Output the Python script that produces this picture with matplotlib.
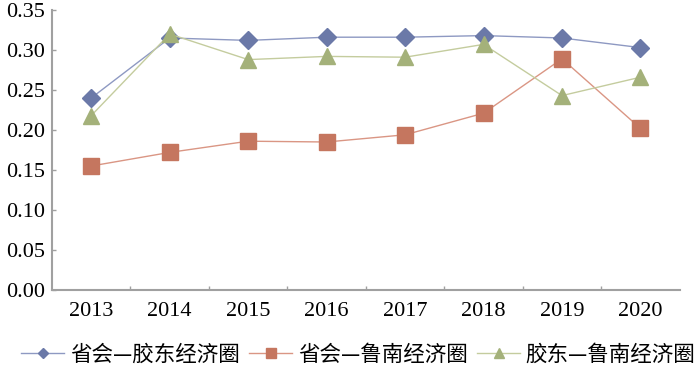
import matplotlib.pyplot as plt
import numpy as np

plt.rcParams['font.family'] = ['Liberation Serif', 'Noto Sans CJK SC']

years = ['2013', '2014', '2015', '2016', '2017', '2018', '2019', '2020']
capital_jiaodong = [0.240, 0.315, 0.312, 0.316, 0.316, 0.318, 0.315, 0.303]
capital_lunan = [0.155, 0.172, 0.186, 0.185, 0.194, 0.221, 0.289, 0.202]
jiaodong_lunan = [0.218, 0.320, 0.288, 0.292, 0.291, 0.307, 0.243, 0.266]
labels = ['省会—胶东经济圈', '省会—鲁南经济圈', '胶东—鲁南经济圈']

fig = plt.figure(figsize=(7, 3.65), dpi=100)
ax = fig.add_axes([0.0743, 0.2055, 0.8967, 0.7671])

x = np.arange(len(years))
ax.plot(x, capital_jiaodong, color='#8e99c2', lw=1, marker='D', ms=9,
        mfc='#6b79a8', mec='#6b79a8', label=labels[0])
ax.plot(x, capital_lunan, color='#da9684', lw=1, marker='s', ms=12,
        mfc='#c5765f', mec='#c5765f', label=labels[1])
ax.plot(x, jiaodong_lunan, color='#c4cc9e', lw=1, marker='^', ms=12,
        mfc='#a4b17a', mec='#a4b17a', label=labels[2])

ax.set_xlim(-0.5, len(years) - 0.5)
ax.set_ylim(0, 0.35)
yt = np.arange(0, 0.351, 0.05)
ax.set_yticks(yt)
ax.set_yticklabels([f'{v:.2f}' for v in yt])
ax.set_xticks(x)
ax.set_xticklabels(years)
ax.set_xticks(np.arange(0.5, len(years) - 1, 1), minor=True)
ax.tick_params(axis='both', which='both', labelsize=16, labelcolor='#000000',
               direction='in', color='#a0a0a0', width=1)
ax.tick_params(axis='y', length=3, pad=5)
ax.tick_params(axis='x', which='major', length=0, pad=9)
ax.tick_params(axis='x', which='minor', length=3)

for s in ['top', 'right']:
    ax.spines[s].set_visible(False)
for s in ['left', 'bottom']:
    ax.spines[s].set_color('#a0a0a0')
    ax.spines[s].set_linewidth(1.5)

fig.legend(loc='lower center', bbox_to_anchor=(0.512, -0.055), ncol=3, frameon=False,
           prop={'family': ['Noto Sans CJK SC'], 'size': 15.5},
           handlelength=2.0, columnspacing=0.45, handletextpad=0.25,
           markerscale=0.6)

fig.savefig('out.png', dpi=100)
